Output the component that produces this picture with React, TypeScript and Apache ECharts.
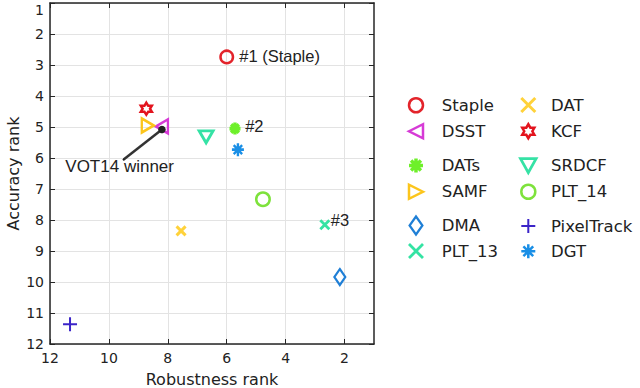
import React, { useEffect, useRef } from "react";
import * as echarts from "echarts";

// ---- data ----
const trackers = ["Staple", "DSST", "DATs", "SAMF", "DMA", "PLT_13", "DAT", "KCF", "SRDCF", "PLT_14", "PixelTrack", "DGT"];
const robustnessRank = [6.0, 8.2, 5.72, 8.68, 2.16, 2.67, 7.55, 8.73, 6.7, 4.77, 11.32, 5.62];
const accuracyRank = [2.74, 4.98, 5.05, 4.95, 9.84, 8.15, 8.35, 4.41, 5.32, 7.33, 11.36, 5.73];
const rankNotes = ["#1 (Staple)", "", "#2", "", "", "#3", "", "", "", "", "", ""];
const winnerArrowX = [9.5, 8.2];
const winnerArrowY = [6.05, 5.08];
const winnerText = "VOT14 winner";
const xTickValues = [2, 4, 6, 8, 10, 12];
const xAxisTitle = "Robustness rank";
const yAxisTitle = "Accuracy rank";

// ---- styles ----
const P = {
  left: "path://M0,5L10,0L10,10Z",
  right: "path://M10,5L0,0L0,10Z",
  down: "path://M0,0L10,0L5,9Z",
  diamond: "path://M5,0L10,7L5,14L0,7Z",
  cross: "path://M0,0L10,10M10,0L0,10",
  plus: "path://M5,0L5,10M0,5L10,5",
  aster: "path://M5,0L5,10M0,5L10,5M1.5,1.5L8.5,8.5M8.5,1.5L1.5,8.5",
  hexa: "path://M5,0L6.45,2.49L9.33,2.5L7.9,5L9.33,7.5L6.45,7.51L5,10L3.55,7.51L0.67,7.5L2.1,5L0.67,2.5L3.55,2.49Z",
};
// aspect = path bbox width / height (used to place legend icons)
const styles: Record<string, any> = {
  Staple: { symbol: "circle", aspect: 1, size: 12.5, color: "#e3242b", bw: 2.5, open: true },
  DSST: { symbol: P.left, aspect: 1, size: [12, 14], color: "#d63ad6", bw: 2.5, open: true },
  DATs: { symbol: P.aster, aspect: 1, size: [11, 12], color: "#6ef02a", bw: 3.5, open: false },
  SAMF: { symbol: P.right, aspect: 1, size: [12, 14], color: "#fcc51c", bw: 2.5, open: true },
  DMA: { symbol: P.diamond, aspect: 10 / 14, size: [11, 16], color: "#1f7fd6", bw: 2.2, open: true },
  PLT_13: { symbol: P.cross, aspect: 1, size: [9, 9], color: "#34e3a3", bw: 2.8, open: false },
  DAT: { symbol: P.cross, aspect: 1, size: [9, 9], color: "#ffd23a", bw: 3, open: false },
  KCF: { symbol: P.hexa, aspect: 8.66 / 10, size: [11, 12], color: "#e3141e", bw: 2.5, open: true },
  SRDCF: { symbol: P.down, aspect: 10 / 9, size: [14, 12], color: "#35e2a5", bw: 2.8, open: true },
  PLT_14: { symbol: "circle", aspect: 1, size: 13.5, color: "#7ee23c", bw: 2.5, open: true },
  PixelTrack: { symbol: P.plus, aspect: 1, size: [14, 14], color: "#3b24c8", bw: 2, open: false },
  DGT: { symbol: P.aster, aspect: 1, size: [12, 13], color: "#1a8fe6", bw: 2.5, open: false },
};
const noteStyle = [
  { distance: 5, offset: [0, -1] },
  null,
  { distance: 3, offset: [0, -3] },
  null,
  null,
  { distance: 0, offset: [0, -5] },
];

const legendRowY = [105, 131, 165.5, 191.5, 225.5, 251];
const legendColIcon = [416, 528.3];
const legendColText = [441.7, 551];

export default function App() {
  const ref = useRef<HTMLDivElement>(null);
  useEffect(() => {
    if (!ref.current) return;
    const chart = echarts.init(ref.current, undefined, { renderer: "svg" });
    const axisColor = "#262626";
    const textColor = "#222";
    const tickFont = { fontFamily: "DejaVu Sans", fontSize: 14, color: textColor };

    const series: any[] = trackers.map((name, i) => {
      const s = styles[name];
      const note = rankNotes[i];
      const ns = noteStyle[i] as any;
      return {
        name,
        type: "scatter",
        xAxisIndex: 0,
        yAxisIndex: 0,
        symbol: s.symbol,
        symbolSize: s.size,
        itemStyle: {
          color: s.open ? "rgba(255,255,255,0)" : s.color,
          borderColor: s.color,
          borderWidth: s.bw,
          opacity: 1,
        },
        label: note
          ? {
              show: true,
              formatter: note,
              position: "right",
              distance: ns ? ns.distance : 4,
              offset: ns ? ns.offset : [0, 0],
              fontFamily: "Liberation Sans",
              fontSize: 16.5,
              color: textColor,
            }
          : { show: false },
        emphasis: { disabled: true },
        data: [[robustnessRank[i], accuracyRank[i]]],
        z: 3,
      };
    });

    series.push({
      name: "winner",
      type: "line",
      xAxisIndex: 0,
      yAxisIndex: 0,
      lineStyle: { color: "#333", width: 2.5 },
      itemStyle: { color: "#222" },
      emphasis: { disabled: true },
      z: 4,
      data: [
        {
          value: [winnerArrowX[0], winnerArrowY[0]],
          symbol: "circle",
          symbolSize: 2,
          label: {
            show: true,
            formatter: winnerText,
            position: "inside",
            offset: [-4, 7],
            fontFamily: "Liberation Sans",
            fontSize: 17,
            color: textColor,
          },
        },
        { value: [winnerArrowX[1], winnerArrowY[1]], symbol: "circle", symbolSize: 7.5 },
      ],
    });

    const legends = trackers.map((name, i) => {
      const s = styles[name];
      const col = i < 6 ? 0 : 1;
      const row = i % 6;
      const h = name === "DMA" ? 18 : 14;
      const w = (legendColText[col] - 5 - legendColIcon[col]) * 2;
      const iconW = Math.min(w, h * s.aspect);
      const iconH = iconW / s.aspect;
      const overTop = iconH >= h - 0.01 ? s.bw / 2 : 0;
      return {
        data: [name],
        left: legendColIcon[col] - iconW / 2 - s.bw / 2,
        top: legendRowY[row] - h / 2 - overTop,
        padding: 0,
        itemWidth: w,
        itemHeight: h,
        selectedMode: false,
        itemStyle: { borderWidth: "inherit" },
        textStyle: { fontFamily: "DejaVu Sans", fontSize: 16.5, color: textColor, lineHeight: h },
      };
    });

    chart.setOption({
      animation: false,
      backgroundColor: "#ffffff",
      grid: { left: 50, right: 266, top: 3, bottom: 44, show: false, containLabel: false, outerBoundsMode: "none" },
      legend: legends,
      xAxis: [
        {
          type: "value",
          min: 1,
          max: 12,
          inverse: true,
          position: "bottom",
          name: xAxisTitle,
          nameLocation: "middle",
          nameGap: 27,
          nameMoveOverlap: false,
          nameTextStyle: { fontFamily: "DejaVu Sans", fontSize: 16, color: textColor },
          axisLine: { show: true, lineStyle: { color: axisColor, width: 1.5 } },
          axisTick: { show: true, inside: true, length: 5, customValues: xTickValues, lineStyle: { color: axisColor } },
          axisLabel: { ...tickFont, margin: 7, customValues: xTickValues },
          splitLine: { show: true, lineStyle: { color: "#e3e3e3", width: 1 } },
        },
        {
          type: "value",
          min: 1,
          max: 12,
          inverse: true,
          position: "top",
          axisLine: { show: true, lineStyle: { color: axisColor, width: 1.5 } },
          axisTick: { show: true, inside: true, length: 5, customValues: xTickValues, lineStyle: { color: axisColor } },
          axisLabel: { show: false },
          splitLine: { show: false },
        },
      ],
      yAxis: [
        {
          type: "value",
          min: 1,
          max: 12,
          interval: 1,
          inverse: true,
          position: "left",
          name: yAxisTitle,
          nameLocation: "middle",
          nameGap: 29,
          nameMoveOverlap: false,
          nameTextStyle: { fontFamily: "DejaVu Sans", fontSize: 16, color: textColor },
          axisLine: { show: true, lineStyle: { color: axisColor, width: 1.5 } },
          axisTick: { show: true, inside: true, length: 5, lineStyle: { color: axisColor } },
          axisLabel: { ...tickFont, margin: 6, verticalAlignMinLabel: "top" },
          splitLine: { show: true, lineStyle: { color: "#e3e3e3", width: 1 } },
        },
        {
          type: "value",
          min: 1,
          max: 12,
          interval: 1,
          inverse: true,
          position: "right",
          axisLine: { show: true, lineStyle: { color: axisColor, width: 1.5 } },
          axisTick: { show: true, inside: true, length: 5, lineStyle: { color: axisColor } },
          axisLabel: { show: false },
          splitLine: { show: false },
        },
      ],
      series,
    });
    return () => chart.dispose();
  }, []);
  return <div ref={ref} style={{ position: "fixed", left: 0, top: 0, width: 640, height: 388 }} />;
}
